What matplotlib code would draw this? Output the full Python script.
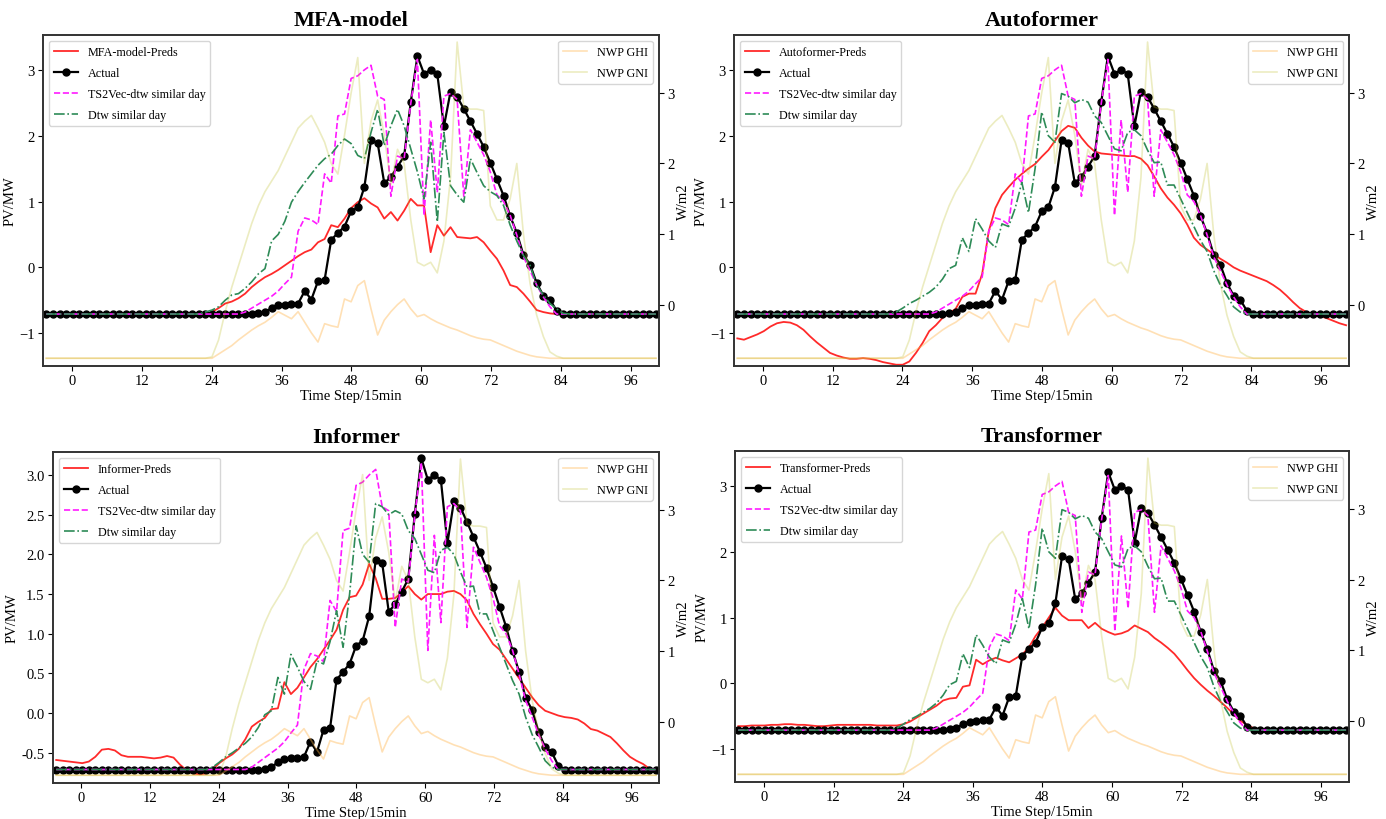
import numpy as np
import matplotlib
matplotlib.use("Agg")
import matplotlib.pyplot as plt

plt.rcParams["font.family"] = ["Liberation Serif", "DejaVu Serif"]

# 時刻 (15分ステップ)
n_steps = 93
time_step = np.arange(n_steps) * 1.138 - 4.4

# 実測値
actual = [-0.71] * 32 + [
    -0.70, -0.68, -0.62, -0.58, -0.57, -0.56, -0.55, -0.36, -0.49, -0.21,
    -0.19, 0.42, 0.52, 0.62, 0.85, 0.91, 1.22, 1.93, 1.89, 1.28,
    1.37, 1.53, 1.69, 2.51, 3.21, 2.94, 3.00, 2.94, 2.14, 2.67,
    2.59, 2.41, 2.22, 2.03, 1.83, 1.59, 1.34, 1.09, 0.78, 0.52,
    0.19, 0.04, -0.24, -0.43, -0.49, -0.66] + [-0.71] * 15

# 類似日
ts2vec_day = [-0.71] * 30 + [
    -0.68, -0.62, -0.56, -0.50, -0.44, -0.36, -0.25, -0.15, 0.55, 0.75,
    0.72, 0.65, 1.42, 1.28, 2.30, 2.33, 2.87, 2.91, 3.00, 3.07,
    2.60, 2.55, 1.08, 1.69, 1.65, 2.49, 3.16, 0.79, 2.24, 1.14,
    2.60, 2.64, 2.55, 1.08, 2.09, 1.90, 1.71, 1.45, 1.10, 1.00,
    0.79, 0.49, 0.16, -0.05, -0.27, -0.45, -0.60] + [-0.71] * 16

dtw_day = [-0.71] * 24 + [
    -0.68, -0.62, -0.55, -0.50, -0.44, -0.38, -0.30, -0.18, -0.02, 0.03,
    0.45, 0.24, 0.74, 0.58, 0.40, 0.30, 0.66, 0.62, 0.90, 1.29,
    0.83, 1.50, 2.36, 2.00, 1.90, 2.64, 2.60, 2.50, 2.55, 2.51,
    2.30, 2.20, 2.00, 1.80, 1.77, 2.05, 2.09, 2.00, 1.78, 1.59,
    1.60, 1.25, 1.25, 1.04, 0.83, 0.62, 0.41, 0.24, -0.05, -0.27,
    -0.43, -0.60, -0.68] + [-0.71] * 16

mfa_dtw_day = [-0.71] * 24 + [
    -0.68, -0.65, -0.60, -0.50, -0.42, -0.40, -0.32, -0.22, -0.10, -0.02,
    0.40, 0.50, 0.70, 0.99, 1.15, 1.29, 1.42, 1.55, 1.65, 1.72,
    1.85, 1.95, 1.88, 1.70, 1.65, 2.05, 2.40, 1.85, 2.15, 2.40,
    2.15, 1.80, 1.45, 1.04, 1.90, 0.69, 2.05, 1.24, 1.10, 0.99,
    1.65, 1.44, 1.24, 1.15, 1.09, 0.94, 0.64, 0.40, 0.18, 0.03,
    -0.27, -0.42, -0.55, -0.63, -0.70] + [-0.71] * 14

# 予測値
mfa_preds = [-0.71] * 25 + [
    -0.68, -0.62, -0.55, -0.52, -0.47, -0.40, -0.30, -0.22, -0.15, -0.10,
    -0.04, 0.03, 0.10, 0.17, 0.23, 0.27, 0.38, 0.43, 0.64, 0.61,
    0.74, 0.90, 0.99, 1.05, 0.97, 0.91, 0.74, 0.84, 0.71, 0.86,
    1.04, 0.94, 0.94, 0.23, 0.64, 0.48, 0.61, 0.46, 0.45, 0.44,
    0.46, 0.38, 0.25, 0.13, -0.05, -0.27, -0.30, -0.40, -0.52, -0.65,
    -0.68, -0.70] + [-0.71] * 16

autoformer_preds = [
    -1.08, -1.10, -1.06, -1.02, -0.97, -0.90, -0.85, -0.83, -0.84, -0.88,
    -0.95, -1.05, -1.14, -1.22, -1.30, -1.34, -1.37, -1.39, -1.39, -1.38,
    -1.39, -1.41, -1.44, -1.46, -1.48, -1.48, -1.43, -1.30, -1.15, -0.97,
    -0.88, -0.77, -0.70, -0.63, -0.45, -0.40, -0.40, -0.10, 0.55, 0.90,
    1.10, 1.22, 1.33, 1.42, 1.50, 1.57, 1.68, 1.78, 1.92, 2.07,
    2.15, 2.12, 1.97, 1.85, 1.76, 1.73, 1.72, 1.71, 1.70, 1.69,
    1.69, 1.65, 1.55, 1.38, 1.20, 1.06, 0.95, 0.82, 0.65, 0.45,
    0.34, 0.27, 0.20, 0.13, 0.07, 0.00, -0.05, -0.09, -0.13, -0.17,
    -0.21, -0.27, -0.34, -0.43, -0.53, -0.62, -0.68, -0.71, -0.74, -0.77,
    -0.81, -0.85, -0.88]

informer_preds = [
    -0.59, -0.60, -0.61, -0.62, -0.63, -0.61, -0.55, -0.46, -0.45, -0.47,
    -0.53, -0.55, -0.55, -0.55, -0.56, -0.57, -0.56, -0.54, -0.56, -0.65,
    -0.72, -0.76, -0.77, -0.76, -0.71, -0.63, -0.57, -0.52, -0.45, -0.33,
    -0.17, -0.11, -0.06, 0.05, 0.06, 0.39, 0.24, 0.32, 0.45, 0.58,
    0.68, 0.80, 0.92, 1.05, 1.30, 1.46, 1.48, 1.62, 1.88, 1.70,
    1.44, 1.44, 1.45, 1.52, 1.60, 1.50, 1.43, 1.50, 1.50, 1.50,
    1.53, 1.54, 1.50, 1.42, 1.25, 1.12, 1.00, 0.87, 0.80, 0.68,
    0.56, 0.44, 0.32, 0.20, 0.10, 0.03, 0.00, -0.03, -0.05, -0.06,
    -0.08, -0.13, -0.20, -0.22, -0.26, -0.30, -0.38, -0.47, -0.55, -0.60,
    -0.64, -0.70, -0.73]

transformer_preds = [
    -0.65, -0.65, -0.64, -0.64, -0.64, -0.63, -0.63, -0.62, -0.62, -0.63,
    -0.63, -0.64, -0.65, -0.65, -0.64, -0.63, -0.63, -0.63, -0.63, -0.63,
    -0.63, -0.64, -0.64, -0.64, -0.64, -0.62, -0.58, -0.52, -0.46, -0.40,
    -0.34, -0.26, -0.23, -0.22, -0.05, -0.03, 0.36, 0.29, 0.35, 0.39,
    0.35, 0.32, 0.38, 0.44, 0.55, 0.72, 0.85, 1.00, 1.15, 1.03,
    0.96, 0.96, 0.96, 0.84, 0.92, 0.83, 0.78, 0.74, 0.76, 0.80,
    0.88, 0.83, 0.78, 0.69, 0.62, 0.54, 0.45, 0.33, 0.20, 0.08,
    -0.02, -0.11, -0.19, -0.28, -0.37, -0.47, -0.57, -0.63, -0.68, -0.70] + [-0.70] * 13

# NWP (右軸)
nwp_ghi = [-0.76] * 26 + [
    -0.70, -0.64, -0.58, -0.50, -0.43, -0.36, -0.30, -0.25, -0.18, -0.10,
    -0.15, -0.20, -0.10, -0.25, -0.40, -0.53, -0.27, -0.30, -0.32, 0.08,
    0.04, 0.27, 0.34, -0.06, -0.43, -0.22, -0.10, 0.00, 0.08, -0.06,
    -0.17, -0.14, -0.20, -0.25, -0.29, -0.33, -0.36, -0.40, -0.44, -0.47,
    -0.49, -0.50, -0.54, -0.58, -0.62, -0.66, -0.69, -0.72, -0.74, -0.75] + [-0.76] * 17

nwp_gni = [-0.76] * 25 + [
    -0.74, -0.50, -0.10, 0.25, 0.55, 0.85, 1.15, 1.40, 1.60, 1.75,
    1.90, 2.10, 2.30, 2.50, 2.60, 2.68, 2.50, 2.30, 2.00, 1.85,
    2.40, 3.00, 3.50, 2.00, 2.60, 2.90, 2.40, 1.70, 2.20, 2.00,
    1.20, 0.60, 0.55, 0.60, 0.45, 0.90, 1.80, 3.72, 2.80, 2.77,
    2.77, 2.75, 1.40, 1.20, 1.20, 1.50, 2.00, 1.00, 0.30, -0.15,
    -0.45, -0.67, -0.73] + [-0.76] * 15

x_ticks = list(range(0, 97, 12))


def draw_panel(rect, title, preds, dtw, ylim, yticks=None, yfmt=None):
    ax = fig.add_axes(rect)
    ax.plot(time_step, preds, color="#ff2a2a", lw=1.3, label=f"{title}-Preds")
    ax.plot(time_step, actual, color="k", marker="o", ms=5, lw=1.6, label="Actual")
    ax.plot(time_step, ts2vec_day, color="#ff1aff", ls="--", lw=1.2,
            label="TS2Vec-dtw similar day")
    ax.plot(time_step, dtw, color="#2e8b57", ls="-.", lw=1.2, label="Dtw similar day")
    ax.set_xlim(-4.97, 100.8)
    ax.set_ylim(*ylim)
    ax.set_xticks(x_ticks)
    if yticks is not None:
        ax.set_yticks(yticks)
    if yfmt is not None:
        ax.yaxis.set_major_formatter(plt.FormatStrFormatter(yfmt))
    ax.set_xlabel("Time Step/15min", fontsize=10.5, labelpad=1)
    ax.set_ylabel("PV/MW", fontsize=10.5, labelpad=2)
    ax.set_title(title, fontsize=16, fontweight="bold", pad=7)
    ax.tick_params(labelsize=10.5, length=3.5, pad=2.5)
    ax.legend(loc="upper left", fontsize=8.7, framealpha=0.8, labelspacing=0.75)

    # 右軸にNWPを描画
    ax2 = ax.twinx()
    ax2.plot(time_step, nwp_ghi, color="#ffb347", alpha=0.4, lw=1.2, label="NWP GHI")
    ax2.plot(time_step, nwp_gni, color="#bcbd22", alpha=0.28, lw=1.2, label="NWP GNI")
    ax2.set_ylim(-0.87, 3.82)
    ax2.set_yticks([0, 1, 2, 3])
    ax2.set_ylabel("W/m2", fontsize=10.5, labelpad=2)
    ax2.tick_params(labelsize=10.5, length=3.5, pad=2.5)
    ax2.legend(loc="upper right", fontsize=8.7, framealpha=0.8, labelspacing=0.75)
    for a in (ax, ax2):
        for s in a.spines.values():
            s.set_linewidth(1.2)
            s.set_color("#333333")


fig = plt.figure(figsize=(13.86, 8.2), dpi=100)
draw_panel([0.031, 0.5524, 0.4444, 0.4037], "MFA-model", mfa_preds, mfa_dtw_day,
           (-1.5, 3.53))
draw_panel([0.5296, 0.5524, 0.4437, 0.4037], "Autoformer", autoformer_preds, dtw_day,
           (-1.5, 3.53))
draw_panel([0.0382, 0.0439, 0.4372, 0.4037], "Informer", informer_preds, dtw_day,
           (-0.88, 3.29), yticks=np.arange(-0.5, 3.01, 0.5), yfmt="%.1f")
draw_panel([0.5303, 0.0450, 0.4430, 0.4037], "Transformer", transformer_preds, dtw_day,
           (-1.5, 3.53))

fig.savefig("out.png", dpi=100)
